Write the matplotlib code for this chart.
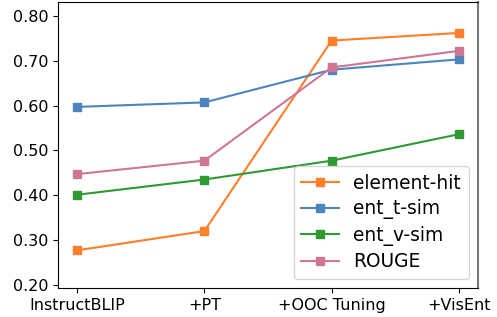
from matplotlib import pyplot as plt

stages = ['InstructBLIP', '+PT', '+OOC Tuning', '+VisEnt']
element_hit = [0.277, 0.320, 0.745, 0.762]
ent_t_sim = [0.597, 0.607, 0.680, 0.703]
ent_v_sim = [0.401, 0.435, 0.477, 0.536]
rouge = [0.447, 0.477, 0.685, 0.722]

series = [
    ('element-hit', element_hit, '#ff7f2a'),
    ('ent_t-sim', ent_t_sim, '#4a86bd'),
    ('ent_v-sim', ent_v_sim, '#2f9a32'),
    ('ROUGE', rouge, '#cf7697'),
]

fig = plt.figure(figsize=(4.97, 3.17), dpi=100)
ax = fig.add_subplot(111)
fig.subplots_adjust(left=58/497, right=478/497, top=1-2/317, bottom=1-288/317)

x = list(range(len(stages)))
for name, vals, c in series:
    ax.plot(x, vals, marker='s', markersize=6, linewidth=1.5, color=c, label=name)

ax.set_xticks(x)
ax.set_xticklabels(stages, fontsize=11.5)
ax.set_yticks([0.2, 0.3, 0.4, 0.5, 0.6, 0.7, 0.8])
ax.set_yticklabels([f'{v:.2f}' for v in [0.2, 0.3, 0.4, 0.5, 0.6, 0.7, 0.8]], fontsize=11.5)
ax.set_xlim(-0.15, 3.15)
ax.set_ylim(0.193, 0.831)
ax.spines['right'].set_color('#777777')
ax.spines['right'].set_linewidth(1.5)
ax.legend(loc='lower right', fontsize=13.4, handlelength=2, labelspacing=0.35)

plt.savefig('out.png')
